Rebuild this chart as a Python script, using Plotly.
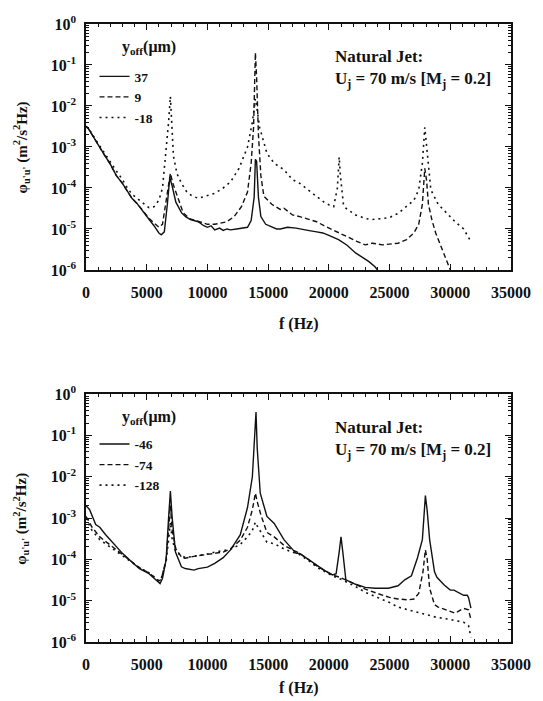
import plotly.graph_objects as go

# ---------------- data ----------------
# Top panel
top_solid_f = [0, 200, 500, 800, 1134, 1500, 2000, 2500, 3000, 3500, 3800, 4200, 4600, 5000, 5200, 5600, 6000, 6200, 6450, 6700, 6900, 7100, 7400, 7860, 8200, 8600, 9240, 9700, 10000, 10300, 10600, 11000, 11300, 11600, 11900, 12400, 12800, 13300, 13600, 13850, 13950, 14050, 14200, 14400, 14800, 15300, 15700, 16000, 16600, 17300, 17800, 18500, 19000, 19500, 20000, 20800, 21500, 22200, 22800, 23300, 23800, 24000]
top_solid_v = [3.2e-3, 2.8e-3, 2.0e-3, 1.4e-3, 1.0e-3, 6.5e-4, 3.8e-4, 2.0e-4, 1.3e-4, 7.5e-5, 5.5e-5, 4.2e-5, 3.0e-5, 2.1e-5, 1.7e-5, 1.2e-5, 8e-6, 7.2e-6, 8.5e-6, 4e-5, 1.8e-4, 1.1e-4, 4.5e-5, 2.5e-5, 2.0e-5, 1.7e-5, 1.5e-5, 1.2e-5, 1.1e-5, 1.2e-5, 9.5e-6, 1.05e-5, 9.2e-6, 1.0e-5, 9.5e-6, 1.0e-5, 1.05e-5, 1.1e-5, 1.6e-5, 6e-5, 5e-4, 4.5e-4, 6e-5, 2.0e-5, 1.3e-5, 1.1e-5, 1.0e-5, 1.0e-5, 1.1e-5, 1.05e-5, 1.0e-5, 9e-6, 8.5e-6, 8e-6, 7e-6, 5.5e-6, 4e-6, 2.6e-6, 2.0e-6, 1.6e-6, 1.2e-6, 1.0e-6]

top_dash_f = [0, 200, 500, 800, 1134, 1500, 2000, 2500, 3000, 3500, 3800, 4200, 4600, 5000, 5200, 5600, 6000, 6300, 6600, 6800, 6950, 7150, 7400, 8000, 8500, 9000, 9600, 10000, 10600, 11000, 11600, 12200, 12800, 13300, 13600, 13800, 13950, 14050, 14200, 14400, 14650, 15300, 16000, 16300, 17000, 17600, 18300, 19000, 19600, 20300, 21000, 21700, 22300, 23000, 23600, 24400, 25000, 25700, 26400, 27000, 27400, 27700, 27900, 28050, 28200, 28500, 28800, 29200, 29600, 30000]
top_dash_v = [3.2e-3, 2.8e-3, 2.0e-3, 1.4e-3, 1.0e-3, 6.5e-4, 3.8e-4, 2.0e-4, 1.3e-4, 7.5e-5, 5.5e-5, 4.2e-5, 3.0e-5, 2.1e-5, 1.8e-5, 1.4e-5, 1.1e-5, 1.3e-5, 5e-5, 1.5e-4, 2.3e-4, 1.3e-4, 8e-5, 2.5e-5, 1.8e-5, 1.6e-5, 1.4e-5, 1.3e-5, 1.3e-5, 1.4e-5, 1.5e-5, 2.0e-5, 3.5e-5, 8e-5, 4e-4, 3e-3, 0.2, 0.05, 2e-3, 2e-4, 6.3e-5, 4e-5, 3e-5, 3.2e-5, 2.2e-5, 2.0e-5, 1.7e-5, 1.5e-5, 1.2e-5, 9.5e-6, 7.5e-6, 5.9e-6, 5e-6, 4.1e-6, 4.5e-6, 4.1e-6, 4.3e-6, 4.5e-6, 5.5e-6, 8e-6, 1.3e-5, 4e-5, 3e-4, 1.5e-4, 4e-5, 1.6e-5, 8e-6, 4e-6, 2e-6, 1.0e-6]

top_dot_f = [0, 300, 800, 1134, 1600, 2000, 2500, 3000, 3400, 3800, 4400, 4800, 5190, 5600, 6000, 6300, 6600, 6800, 6950, 7050, 7200, 7500, 7860, 8300, 8700, 9240, 9900, 10600, 11300, 11900, 12600, 13300, 13700, 13950, 14050, 14300, 14900, 15500, 16300, 17000, 17600, 18300, 19000, 19600, 20000, 20400, 20700, 20850, 20950, 21200, 21400, 22200, 23000, 23600, 24400, 25000, 25700, 26400, 27000, 27400, 27700, 27900, 28050, 28200, 28400, 29000, 29700, 30400, 31100, 31600]
top_dot_v = [3.2e-3, 2.6e-3, 1.5e-3, 1.05e-3, 6.5e-4, 4.5e-4, 2.6e-4, 1.6e-4, 1.0e-4, 7e-5, 5e-5, 4e-5, 3.3e-5, 3.5e-5, 5e-5, 1e-4, 8e-4, 4e-3, 1.7e-2, 3e-3, 6e-4, 2.2e-4, 1.3e-4, 8e-5, 6.5e-5, 5.6e-5, 6.5e-5, 7.4e-5, 1.0e-4, 1.4e-4, 3e-4, 1.0e-3, 4e-3, 1.5e-2, 1.0e-2, 3e-3, 7e-4, 4e-4, 2.8e-4, 1.6e-4, 1.3e-4, 9e-5, 6.3e-5, 4.5e-5, 3.9e-5, 3.5e-5, 1e-4, 5.7e-4, 2e-4, 4e-5, 3.2e-5, 2.2e-5, 1.8e-5, 1.7e-5, 1.8e-5, 1.9e-5, 2.4e-5, 3.5e-5, 5e-5, 9e-5, 4e-4, 3e-3, 1e-3, 2.5e-4, 9e-5, 4e-5, 2.4e-5, 1.5e-5, 1.0e-5, 5.5e-6]

# Bottom panel
bot_solid_f = [0, 300, 800, 1134, 1600, 2000, 2500, 3000, 3800, 4400, 5190, 5600, 6000, 6100, 6300, 6600, 6800, 6950, 7100, 7370, 7860, 8170, 8900, 9240, 10000, 10600, 11300, 11900, 12700, 13300, 13700, 13900, 14000, 14100, 14350, 14900, 15500, 16300, 17300, 17600, 18300, 19000, 19600, 20300, 20600, 20850, 21000, 21150, 21400, 22200, 23000, 23800, 24900, 25700, 26250, 26800, 27300, 27700, 27950, 28100, 28300, 28700, 28900, 29500, 30000, 30300, 31100, 31400, 31500, 31700]
bot_solid_v = [2.0e-3, 1.6e-3, 7e-4, 6e-4, 4e-4, 3e-4, 2e-4, 1.4e-4, 8.5e-5, 6e-5, 4.5e-5, 3.5e-5, 2.8e-5, 2.6e-5, 3.5e-5, 1e-4, 1e-3, 4.5e-3, 1e-3, 1.5e-4, 6.6e-5, 6e-5, 5.5e-5, 6e-5, 6.5e-5, 8e-5, 1.1e-4, 1.7e-4, 3.9e-4, 1.8e-3, 1e-2, 0.1, 0.37, 0.05, 4e-3, 1.1e-3, 7.4e-4, 3e-4, 1.4e-4, 1.4e-4, 1e-4, 7.2e-5, 5.5e-5, 4.2e-5, 4.5e-5, 1.5e-4, 3.5e-4, 1.5e-4, 3.2e-5, 2.5e-5, 2.1e-5, 2e-5, 2e-5, 2.3e-5, 3.2e-5, 4e-5, 1.1e-4, 3e-4, 3.5e-3, 1.5e-3, 3e-4, 5e-5, 3.7e-5, 2.4e-5, 1.8e-5, 1.8e-5, 1.35e-5, 1.35e-5, 1.2e-5, 6.6e-6]

bot_dash_f = [0, 500, 1134, 2000, 3000, 3800, 4400, 5190, 6000, 6200, 6600, 6850, 6950, 7100, 7400, 7900, 8170, 9000, 10000, 10600, 11300, 11900, 12700, 13300, 13700, 13950, 14100, 14400, 14900, 15500, 16300, 17000, 17600, 18300, 19000, 20300, 21000, 22200, 23000, 24000, 25000, 25700, 26500, 27000, 27400, 27750, 27950, 28100, 28300, 28700, 29000, 30000, 30400, 31100, 31500, 31700]
bot_dash_v = [1.1e-3, 6e-4, 3.5e-4, 2.2e-4, 1.3e-4, 8.5e-5, 6.3e-5, 4.7e-5, 3e-5, 3.3e-5, 1e-4, 8e-4, 2e-3, 5e-4, 1.8e-4, 1.1e-4, 1.07e-4, 1.2e-4, 1.3e-4, 1.4e-4, 1.5e-4, 1.8e-4, 2.9e-4, 6e-4, 1.6e-3, 4e-3, 2.5e-3, 1.2e-3, 4.5e-4, 3.5e-4, 2.2e-4, 1.7e-4, 1.4e-4, 1e-4, 7e-5, 4.2e-5, 3.6e-5, 2.5e-5, 1.9e-5, 1.5e-5, 1.2e-5, 1.1e-5, 1.05e-5, 1.1e-5, 1.5e-5, 5e-5, 1.7e-4, 1e-4, 2e-5, 8e-6, 7e-6, 5.5e-6, 5e-6, 6.5e-6, 6e-6, 3.5e-6]

bot_dot_f = [0, 500, 1134, 2000, 3000, 3800, 4400, 5190, 6000, 6200, 6600, 6850, 6950, 7100, 7400, 8170, 9000, 10000, 10600, 11300, 11900, 12700, 13300, 13700, 13950, 14100, 14400, 14900, 15500, 16300, 17000, 17600, 18300, 19000, 20300, 21000, 22200, 23000, 24000, 25000, 25700, 27000, 28000, 28800, 30000, 31100, 31500, 31700]
bot_dot_v = [1.0e-3, 5e-4, 3e-4, 2e-4, 1.25e-4, 8.5e-5, 6.3e-5, 4.7e-5, 3e-5, 3.5e-5, 9e-5, 4e-4, 8e-4, 3e-4, 1.5e-4, 1.1e-4, 1.2e-4, 1.35e-4, 1.5e-4, 1.6e-4, 1.75e-4, 2.3e-4, 3.5e-4, 5e-4, 8e-4, 6.5e-4, 4.5e-4, 2.6e-4, 2.4e-4, 1.8e-4, 1.5e-4, 1.3e-4, 9.5e-5, 6.5e-5, 4e-5, 3.3e-5, 2.2e-5, 1.6e-5, 1.2e-5, 9e-6, 7e-6, 5.5e-6, 4.5e-6, 4e-6, 3.5e-6, 3e-6, 2.5e-6, 1.3e-6]

top_labels = ["37", "9", "-18"]
bot_labels = ["-46", "-74", "-128"]

x_tickvals = [0, 5000, 10000, 15000, 20000, 25000, 30000, 35000]
x_ticktext = ["0", "5000", "10000", "15000", "20000", "25000", "30000", "35000"]
y_tickvals = [1e-6, 1e-5, 1e-4, 1e-3, 1e-2, 1e-1, 1]
y_ticktext = ["10<sup>-6</sup>", "10<sup>-5</sup>", "10<sup>-4</sup>", "10<sup>-3</sup>",
              "10<sup>-2</sup>", "10<sup>-1</sup>", "10<sup>0</sup>"]
y_minor = [m * 10.0 ** e for e in range(-6, 0) for m in range(2, 10)]

# ---------------- figure ----------------
FONT = "Liberation Serif, Times New Roman, serif"
BLACK = "#111111"
styles = [dict(color=BLACK, width=1.4, dash="solid"),
          dict(color=BLACK, width=1.4, dash="5px,3px"),
          dict(color=BLACK, width=1.6, dash="2px,4px")]

fig = go.Figure()

top_series = [(top_solid_f, top_solid_v), (top_dash_f, top_dash_v), (top_dot_f, top_dot_v)]
bot_series = [(bot_solid_f, bot_solid_v), (bot_dash_f, bot_dash_v), (bot_dot_f, bot_dot_v)]

for (f, v), lab, st in zip(top_series, top_labels, styles):
    fig.add_trace(go.Scatter(x=f, y=v, mode="lines", name=lab, line=st,
                             xaxis="x", yaxis="y", legend="legend"))
for (f, v), lab, st in zip(bot_series, bot_labels, styles):
    fig.add_trace(go.Scatter(x=f, y=v, mode="lines", name=lab, line=st,
                             xaxis="x2", yaxis="y2", legend="legend2"))

tickfont = dict(family=FONT, size=16, color=BLACK, weight="bold")

def xaxis(anchor):
    return dict(range=[0, 35000], tickvals=x_tickvals, ticktext=x_ticktext,
                ticks="inside", ticklen=6, tickwidth=1.2, tickcolor=BLACK,
                showline=True, linewidth=1.5, linecolor=BLACK, mirror="ticks",
                showgrid=False, zeroline=False, tickfont=tickfont,
                ticklabelstandoff=7, anchor=anchor,
                minor=dict(dtick=1000, tick0=0, ticks="inside", ticklen=3,
                           tickwidth=1, tickcolor=BLACK, showgrid=False))

def yaxis(domain, anchor):
    return dict(type="log", range=[-6, 0], domain=domain, anchor=anchor,
                tickvals=y_tickvals, ticktext=y_ticktext,
                ticks="inside", ticklen=6, tickwidth=1.2, tickcolor=BLACK,
                showline=True, linewidth=1.5, linecolor=BLACK, mirror="ticks",
                showgrid=False, zeroline=False, tickfont=tickfont,
                ticklabelstandoff=5,
                minor=dict(tickmode="array", tickvals=y_minor, ticks="inside",
                           ticklen=3, tickwidth=1, tickcolor=BLACK, showgrid=False))

top_dom = [0.602, 1.0]
bot_dom = [0.0, 0.401]

legend_common = dict(bgcolor="rgba(0,0,0,0)", borderwidth=0,
                     font=dict(family=FONT, size=13.5, color=BLACK, weight="bold"),
                     tracegroupgap=0, itemwidth=30, xanchor="left", yanchor="top")

fig.update_layout(
    width=543, height=701,
    margin=dict(l=86, r=25, t=24, b=59),
    paper_bgcolor="white", plot_bgcolor="white",
    font=dict(family=FONT, color=BLACK),
    xaxis=xaxis("y"), yaxis=yaxis(top_dom, "x"),
    xaxis2=xaxis("y2"), yaxis2=yaxis(bot_dom, "x2"),
    legend=dict(x=0.02, y=0.940, **legend_common),
    legend2=dict(x=0.02, y=0.345, **legend_common),
    showlegend=True,
)

ann_font = dict(family=FONT, size=17, color=BLACK, weight="bold")
note = "Natural Jet:<br>U<sub>j</sub> = 70 m/s [M<sub>j</sub> = 0.2]"
ytitle = "φ<sub>u'u'</sub> (m<sup>2</sup>/s<sup>2</sup>Hz)"
legtitle = "y<sub>off</sub>(μm)"
# (note top, y-title centre, x-title centre, legend-title centre) per panel
for ynote, ycen, yx, yleg in [(0.966, 0.801, 0.515, 0.962), (0.366, 0.2, -0.074, 0.363)]:
    fig.add_annotation(text=note, xref="paper", yref="paper", x=0.581, y=ynote,
                       xanchor="left", yanchor="top", align="left", showarrow=False,
                       font=ann_font)
    fig.add_annotation(text=ytitle, xref="paper", yref="paper", x=-0.152, y=ycen,
                       xanchor="center", yanchor="middle", textangle=-90,
                       showarrow=False, font=dict(family=FONT, size=15, color=BLACK, weight="bold"))
    fig.add_annotation(text="f (Hz)", xref="paper", yref="paper", x=0.5, y=yx,
                       xanchor="center", yanchor="middle", showarrow=False,
                       font=dict(family=FONT, size=16, color=BLACK, weight="bold"))
    fig.add_annotation(text=legtitle, xref="paper", yref="paper", x=0.08, y=yleg,
                       xanchor="left", yanchor="middle", showarrow=False,
                       font=dict(family=FONT, size=16, color=BLACK, weight="bold"))

fig.write_html("out.html", config={"displayModeBar": False},
               post_script="document.body.style.margin='0';")
